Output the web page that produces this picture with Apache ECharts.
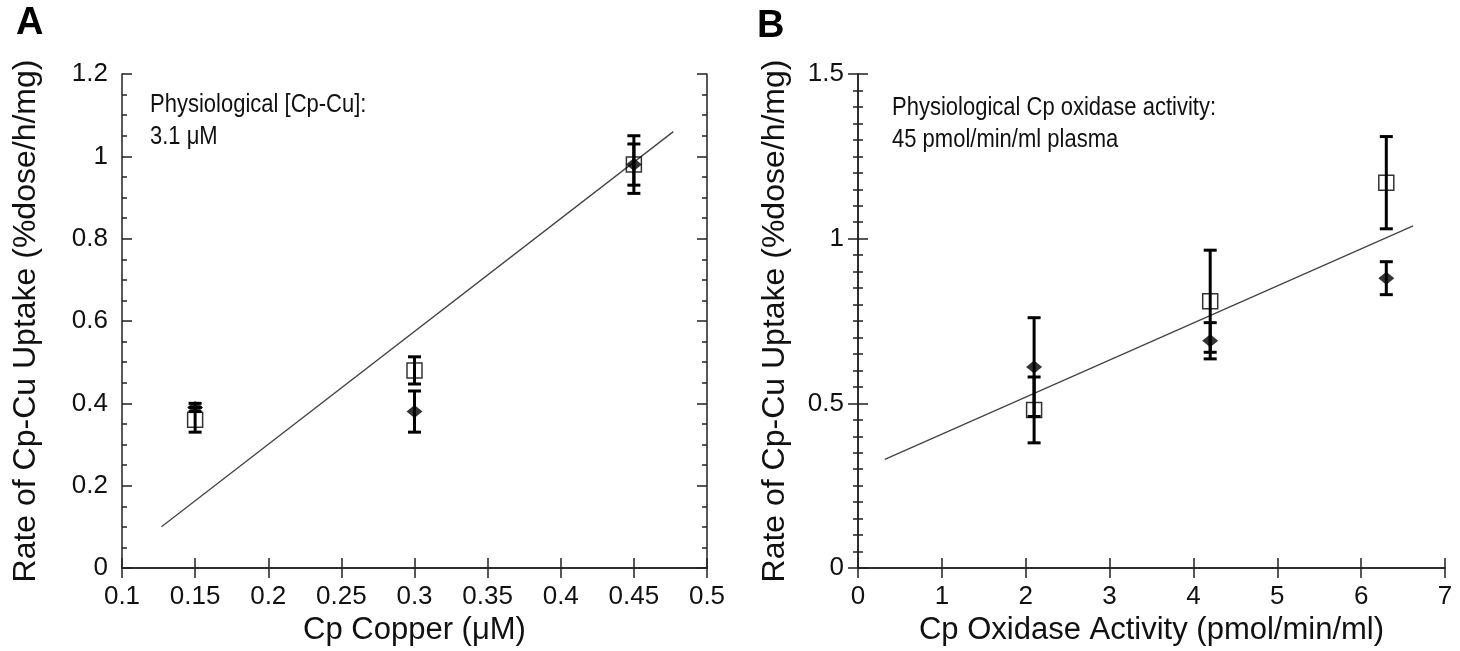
<!DOCTYPE html>
<html><head><meta charset="utf-8">
<script src="https://cdn.jsdelivr.net/npm/echarts@6/dist/echarts.min.js"></script>
<style>html,body{margin:0;padding:0;background:#fff}#c{width:1460px;height:651px}</style>
</head><body><div id="c"></div>
<script>
// ---- Panel A data ----
const xA = [0.15, 0.30, 0.45];
const sqA = [0.36, 0.48, 0.98];
const sqAErr = [0.03, 0.033, 0.07];
const diA = [0.39, 0.38, 0.98];
const diAErr = [0.01, 0.05, 0.05];
const fitAx = [0.127, 0.477];
const fitAy = [0.10, 1.06];
// ---- Panel B data ----
const xB = [2.1, 4.2, 6.3];
const sqB = [0.48, 0.81, 1.17];
const sqBErr = [0.10, 0.155, 0.14];
const diB = [0.61, 0.69, 0.88];
const diBErr = [0.15, 0.055, 0.05];
const fitBx = [0.32, 6.62];
const fitBy = [0.33, 1.039];

const FONT = "'Liberation Sans', Arial, Helvetica, sans-serif";
const pairs = (xs, ys) => xs.map((x, i) => [x, ys[i]]);
const errData = (xs, ys, es) => xs.map((x, i) => [x, ys[i] - es[i], ys[i] + es[i]]);

function errSeries(xi, yi, data) {
  return {
    type: 'custom', xAxisIndex: xi, yAxisIndex: yi, z: 2, silent: true,
    renderItem: function (params, api) {
      const x = api.value(0);
      const lo = api.coord([x, api.value(1)]);
      const hi = api.coord([x, api.value(2)]);
      const w = 6.5;
      const st = { stroke: '#000', lineWidth: 3 };
      return { type: 'group', children: [
        { type: 'line', shape: { x1: lo[0], y1: lo[1], x2: hi[0], y2: hi[1] }, style: st },
        { type: 'line', shape: { x1: lo[0] - w, y1: lo[1], x2: lo[0] + w, y2: lo[1] }, style: st },
        { type: 'line', shape: { x1: hi[0] - w, y1: hi[1], x2: hi[0] + w, y2: hi[1] }, style: st }
      ]};
    },
    data: data
  };
}

const axisLine = { show: true, lineStyle: { color: '#222', width: 1.5 } };
const tick = { show: true, inside: true, length: 10, lineStyle: { color: '#222', width: 1.5 } };
const minor = (n) => ({ show: true, splitNumber: n, length: 5, lineStyle: { color: '#222', width: 1.5 } });
const lbl = { fontFamily: FONT, fontSize: 26, color: '#111' };
const nameStyle = { fontFamily: FONT, fontSize: 31, color: '#111' };

function xAxes(gi, min, max, interval, name) {
  return [
    { type: 'value', gridIndex: gi, min: min, max: max, interval: interval, position: 'bottom',
      axisLine: axisLine, axisTick: tick, splitLine: { show: false },
      axisLabel: Object.assign({ margin: 16 }, lbl),
      name: name, nameLocation: 'middle', nameGap: 47, nameTextStyle: nameStyle },
    { type: 'value', gridIndex: gi, min: min, max: max, interval: interval, position: 'top',
      axisLine: axisLine, axisTick: tick, splitLine: { show: false }, axisLabel: { show: false } }
  ];
}
function yAxes(gi, min, max, interval, n, name, gap) {
  return [
    { type: 'value', gridIndex: gi, min: min, max: max, interval: interval, position: 'left',
      axisLine: axisLine, axisTick: tick, minorTick: minor(n), splitLine: { show: false },
      axisLabel: Object.assign({ margin: 14 }, lbl),
      name: name, nameLocation: 'middle', nameGap: gap, nameTextStyle: Object.assign({}, nameStyle, { fontSize: 32 }) },
    { type: 'value', gridIndex: gi, min: min, max: max, interval: interval, position: 'right',
      axisLine: axisLine, axisTick: tick, minorTick: minor(n), splitLine: { show: false }, axisLabel: { show: false } }
  ];
}

const yName = 'Rate of Cp-Cu Uptake (%dose/h/mg)';
const chart = echarts.init(document.getElementById('c'), null, { renderer: 'canvas' });
chart.setOption({
  animation: false,
  backgroundColor: '#fff',
  grid: [
    { left: 122, top: 74, width: 585, height: 504 },
    { left: 858, top: 74, width: 587, height: 505 }
  ],
  xAxis: [].concat(xAxes(0, 0.1, 0.5, 0.05, 'Cp Copper (\u03bcM)'), xAxes(1, 0, 7, 1, 'Cp Oxidase Activity (pmol/min/ml)')),
  yAxis: [].concat(yAxes(0, 0, 1.2, 0.2, 4, yName, 80), yAxes(1, 0, 1.5, 0.5, 10, yName, 67)),
  graphic: [
    { type: 'text', left: 16, top: 5, style: { text: 'A', font: 'bold 38px ' + FONT, fill: '#000' } },
    { type: 'text', left: 757, top: 8, style: { text: 'B', font: 'bold 38px ' + FONT, fill: '#000' } },
    { type: 'text', left: 150, top: 90, scaleY: 1.15, style: { text: 'Physiological [Cp-Cu]:\n3.1 \u03bcM', font: '22px ' + FONT, fill: '#111', lineHeight: 27 } },
    { type: 'text', left: 892, top: 93, scaleY: 1.15, style: { text: 'Physiological Cp oxidase activity:\n45 pmol/min/ml plasma', font: '22px ' + FONT, fill: '#111', lineHeight: 27 } }
  ],
  series: [
    { type: 'line', xAxisIndex: 0, yAxisIndex: 0, data: pairs(fitAx, fitAy), symbol: 'none', lineStyle: { color: '#444', width: 1.3 }, z: 1, silent: true },
    errSeries(0, 0, errData(xA, sqA, sqAErr)),
    errSeries(0, 0, errData(xA, diA, diAErr)),
    { type: 'scatter', xAxisIndex: 0, yAxisIndex: 0, data: pairs(xA, diA), symbol: 'diamond', symbolSize: [16, 13], itemStyle: { color: '#000' }, z: 3 },
    { type: 'scatter', xAxisIndex: 0, yAxisIndex: 0, data: pairs(xA, sqA), symbol: 'rect', symbolSize: 15, itemStyle: { color: 'rgba(0,0,0,0)', borderColor: '#000', borderWidth: 1.5 }, z: 4 },

    { type: 'line', xAxisIndex: 2, yAxisIndex: 2, data: pairs(fitBx, fitBy), symbol: 'none', lineStyle: { color: '#444', width: 1.3 }, z: 1, silent: true },
    errSeries(2, 2, errData(xB, sqB, sqBErr)),
    errSeries(2, 2, errData(xB, diB, diBErr)),
    { type: 'scatter', xAxisIndex: 2, yAxisIndex: 2, data: pairs(xB, diB), symbol: 'diamond', symbolSize: [16, 13], itemStyle: { color: '#000' }, z: 3 },
    { type: 'scatter', xAxisIndex: 2, yAxisIndex: 2, data: pairs(xB, sqB), symbol: 'rect', symbolSize: 15, itemStyle: { color: 'rgba(0,0,0,0)', borderColor: '#000', borderWidth: 1.5 }, z: 4 }
  ]
});
</script></body></html>
